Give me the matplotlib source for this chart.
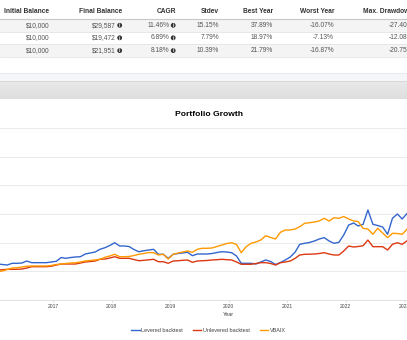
import numpy as np
import pandas as pd
import matplotlib
matplotlib.use("Agg")
import matplotlib.pyplot as plt
import matplotlib.dates as mdates
from matplotlib.patches import Rectangle, Circle

plt.rcParams['font.family'] = ['Liberation Sans', 'DejaVu Sans']

# summary table
headers = ["Initial Balance", "Final Balance", "CAGR", "Stdev", "Best Year", "Worst Year", "Max. Drawdown"]
initial = ["$10,000", "$10,000", "$10,000"]
final = ["$29,587", "$19,472", "$21,951"]
cagr = ["11.46%", "6.89%", "8.18%"]
stdev = ["15.15%", "7.79%", "10.39%"]
best = ["37.89%", "18.97%", "21.79%"]
worst = ["-16.07%", "-7.13%", "-16.87%"]
maxdd = ["-27.40%", "-12.08%", "-20.75%"]

# monthly balances (thousands of $), Jan 2016 .. Jan 2023
levered = [11.28, 11.19, 11.10, 11.40, 11.40, 11.45, 11.80, 11.51, 11.51, 11.51, 11.51, 11.63,
           11.75, 12.41, 12.27, 12.41, 12.50, 12.55, 13.02, 13.20, 13.37, 13.84, 14.12, 14.50,
           14.99, 14.42, 14.42, 14.33, 13.81, 13.42, 13.58, 13.72, 13.84, 12.97, 12.97, 12.27,
           12.97, 13.11, 13.20, 13.32, 12.73, 13.02, 13.02, 13.02, 13.11, 13.28, 13.42, 13.37,
           13.25, 12.67, 11.40, 11.40, 11.40, 11.28, 11.63, 11.98, 11.71, 11.19, 11.54, 11.98,
           12.50, 13.37, 14.71, 14.89, 15.03, 15.29, 15.64, 15.87, 15.29, 14.89, 15.06, 16.34,
           18.08, 18.43, 17.91, 18.20, 20.70, 18.20, 17.99, 17.73, 16.46, 19.25, 20.00, 19.13,
           20.12]
unlevered = [10.23, 10.28, 10.35, 10.35, 10.35, 10.41, 10.58, 10.81, 10.81, 10.81, 10.81, 10.89,
             11.10, 11.28, 11.28, 11.28, 11.28, 11.45, 11.63, 11.71, 11.80, 12.10, 12.15, 12.32,
             12.55, 12.27, 12.27, 12.27, 12.06, 11.85, 11.92, 12.01, 12.10, 11.68, 11.68, 11.40,
             11.80, 11.85, 11.92, 11.98, 11.57, 11.80, 11.85, 11.89, 11.98, 12.03, 12.10, 12.03,
             11.98, 11.63, 11.23, 11.23, 11.23, 11.37, 11.51, 11.51, 11.37, 11.10, 11.51, 11.63,
             11.80, 12.27, 12.85, 12.97, 12.99, 13.02, 13.11, 13.25, 13.02, 12.85, 12.85, 13.55,
             14.42, 14.24, 14.33, 14.47, 15.46, 14.30, 14.30, 14.30, 13.72, 14.71, 14.99, 14.71,
             15.34]
vbaix = [9.94, 10.06, 10.32, 10.58, 10.63, 10.76, 10.89, 10.93, 10.93, 10.93, 10.93, 11.02,
         11.19, 11.28, 11.37, 11.45, 11.49, 11.63, 11.80, 11.89, 11.98, 12.10, 12.45, 12.67,
         12.97, 12.55, 12.55, 12.59, 12.76, 12.97, 13.11, 13.28, 13.25, 12.85, 12.97, 12.15,
         12.97, 13.20, 13.37, 13.55, 13.32, 13.84, 14.02, 14.02, 14.07, 14.33, 14.59, 14.85,
         14.99, 14.68, 13.25, 14.30, 14.89, 15.12, 15.46, 16.21, 15.90, 15.64, 16.81, 17.21,
         17.21, 17.38, 17.78, 18.38, 18.48, 18.60, 18.78, 19.25, 18.78, 19.35, 19.25, 19.56,
         19.13, 18.78, 18.69, 17.50, 17.38, 16.46, 17.50, 16.68, 15.87, 16.63, 16.60, 16.46,
         17.38]

dates = pd.date_range("2016-01-01", periods=len(levered), freq="MS") + pd.Timedelta(days=19)

fig = plt.figure(figsize=(4.07, 3.40), dpi=100)

# page background drawn in pixel coordinates
bg = fig.add_axes([0, 0, 1, 1])
bg.set_xlim(0, 407)
bg.set_ylim(340, 0)
bg.axis("off")

bg.add_patch(Rectangle((0, 19), 407, 12.5, color="#f4f4f4", lw=0))
bg.add_patch(Rectangle((0, 44.3), 407, 12.7, color="#f4f4f4", lw=0))
bg.plot([0, 407], [18.5, 18.5], color="#c8c8c8", lw=0.8)
for yy in [31.5, 44.3, 57]:
    bg.plot([0, 407], [yy, yy], color="#e4e4e4", lw=0.6)

right_x = [49.5, 122, 176, 219, 273, 334, 413]
for h, rx in zip(headers, right_x):
    bg.text(rx, 11.5, h, ha="right", va="center", fontsize=4.8, fontweight="bold", color="#333333")

row_y = [25.3, 37.8, 50.6]
cols = [initial, final, cagr, stdev, best, worst, maxdd]
icon_cols = {1: 119.7, 2: 173.2}
for ci, (col, rx) in enumerate(zip(cols, right_x)):
    for ry, val in zip(row_y, col):
        if ci in icon_cols:
            cx = icon_cols[ci]
            bg.text(cx - 3.6, ry, val, ha="right", va="center", fontsize=4.8, color="#555555")
            bg.add_patch(Circle((cx, ry), 2.4, color="#333333", lw=0))
            bg.text(cx, ry + 0.2, "i", ha="center", va="center", fontsize=3.4,
                    fontweight="bold", color="white")
        else:
            bg.text(rx, ry, val, ha="right", va="center", fontsize=4.8, color="#555555")

# strip and grey bar above the chart
bg.add_patch(Rectangle((0, 72.7), 407, 8.6, color="#f5f6f9", lw=0))
bg.plot([0, 407], [72.7, 72.7], color="#e6e7ea", lw=0.6)
grad = np.linspace(0, 1, 50).reshape(-1, 1)
bar_cmap = matplotlib.colors.LinearSegmentedColormap.from_list("bar", ["#e9e9e9", "#dedede"])
bg.imshow(grad, extent=(0, 407, 98.7, 81.3), cmap=bar_cmap, aspect="auto", origin="upper", zorder=1)
bg.plot([0, 407], [81.3, 81.3], color="#d4d4d4", lw=0.6)
bg.set_xlim(0, 407)
bg.set_ylim(340, 0)

bg.text(209, 114, "Portfolio Growth", ha="center", va="center", fontsize=6.1,
        fontweight="bold", color="#000000")

# chart
ax = fig.add_axes([0, 40 / 340, 1, 172 / 340])
ax.patch.set_alpha(0)
ax.plot(dates, np.array(levered) * 1000, color="#3366cc", lw=1.0, label="Levered backtest")
ax.plot(dates, np.array(unlevered) * 1000, color="#dc3912", lw=1.0, label="Unlevered backtest")
ax.plot(dates, np.array(vbaix) * 1000, color="#ff9900", lw=1.0, label="VBAIX")

ax.set_xlim(pd.Timestamp("2016-02-04"), pd.Timestamp("2023-01-19"))
ax.set_ylim(5000, 35000)
ax.set_yticks(np.arange(5000, 35001, 5000))
ax.yaxis.grid(True, color="#ebebeb", lw=0.7)
ax.set_axisbelow(True)
for s in ["top", "right", "left"]:
    ax.spines[s].set_visible(False)
ax.spines["bottom"].set_color("#e0e0e0")
ax.spines["bottom"].set_linewidth(0.7)
ax.tick_params(axis="y", left=False, labelleft=False)
ax.xaxis.set_major_locator(mdates.YearLocator())
ax.xaxis.set_major_formatter(mdates.DateFormatter("%Y"))
ax.tick_params(axis="x", length=1.5, width=0.5, color="#d0d0d0", labelsize=3.6,
               labelcolor="#444444", pad=1.5)
ax.set_xlabel("Year", fontsize=4, color="#444444")
ax.xaxis.set_label_coords(228 / 407, -12 / 172)

fig.legend(loc="center", bbox_to_anchor=(208.5 / 407, 10 / 340), ncol=3, frameon=False,
           fontsize=4, handlelength=1.5, handletextpad=0.3, columnspacing=1.8,
           labelcolor="#444444")

fig.savefig("out.png", dpi=100)
